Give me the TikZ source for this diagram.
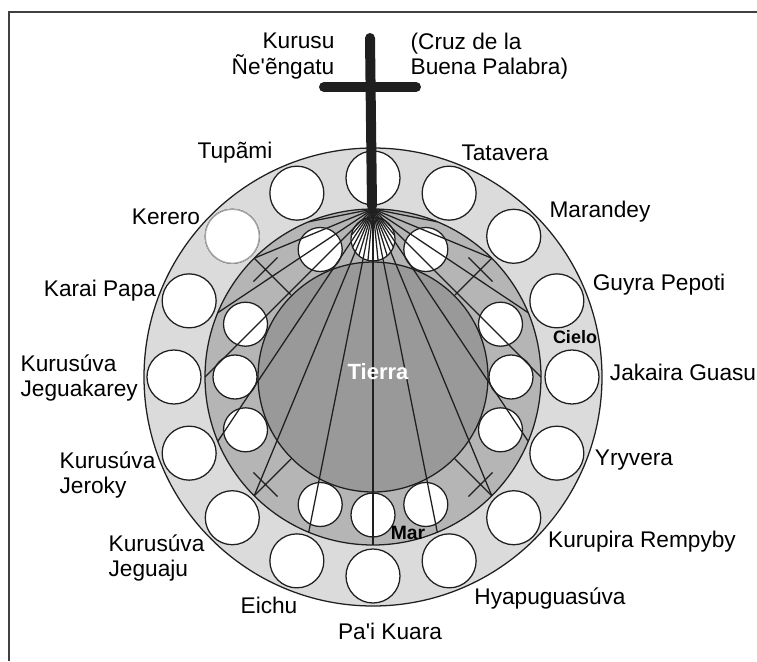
\documentclass[tikz,border=0pt]{standalone}
\usepackage{fontspec}
\newfontfamily\guarani{Liberation Sans}
\usetikzlibrary{positioning}

\definecolor{cielo}{gray}{0.86}
\definecolor{mar}{gray}{0.71}
\definecolor{tierra}{gray}{0.60}
\definecolor{trazo}{gray}{0.12}

\tikzset{
  nombre/.style={font=\guarani\fontsize{17}{19}\selectfont, inner sep=0pt},
  zona/.style={font=\guarani\bfseries\fontsize{#1}{#1}\selectfont, inner sep=0pt},
  hueco/.style={draw=trazo, fill=white},
}

\begin{document}
\begin{tikzpicture}[x=0.75pt, y=-0.75pt, line width=0.95pt, draw=trazo]
  \useasboundingbox (0,0) rectangle (757,661);
  % marco
  \draw[line width=1.6pt, black!75] (9,661) -- (9,12) -- (757,12);

  \begin{scope}[shift={(373,377)}, yscale=-1]
    % cielo
    \filldraw[fill=cielo] (0,0) circle (229);
    \foreach \a in {0,22.5,...,337.5}
      \filldraw[hueco] (\a:199) circle (27);
    \filldraw[hueco, draw=gray!70] (135:199) circle (27);
    % mar y tierra
    \filldraw[fill=mar] (0,0) circle (168);
    \filldraw[fill=tierra] (0,0) circle (115);
    \foreach \a in {0,22.5,67.5,90,112.5,157.5,180,202.5,247.5,270,292.5,337.5}
      \filldraw[hueco] (\a:138) circle (22);
    % rayos desde la cruz
    \coordinate (apex) at (90:168);
    \foreach \a in {112.5,135,...,427.5}
      \draw (apex) -- (\a:168);
    \begin{scope}
      \clip (90:138) circle (22);
      \foreach \a in {191.25,213.75,...,348.75}
        \draw (apex) -- (\a:168);
    \end{scope}
    % cruces chicas
    \foreach \a in {45,135,225,315}
      \draw[rotate=\a] (116,0) -- (168,0) (152,-17) -- (152,17);
  \end{scope}

  % cruz grande
  \draw[line width=7.5pt, trazo, line cap=round] (370,38) -- (372,206);
  \draw[line width=7.5pt, trazo, line cap=round] (324,87) -- (416,87);

  % nombres
  \node[nombre, anchor=east, align=right] (kurusu) at (335,56) {Kurusu\\Ñe'ẽngatu};
  \node[nombre, anchor=west, align=left] (cruz) at (410,56) {(Cruz de la\\Buena Palabra)};
  \node[nombre] (tupami) at (235,153) {Tupãmi};
  \node[nombre] (tatavera) at (505,153) {Tatavera};
  \node[nombre] (kerero) at (166,217) {Kerero};
  \node[nombre] (marandey) at (600,212) {Marandey};
  \node[nombre] (karai) at (100,291) {Karai Papa};
  \node[nombre] (guyra) at (659,285) {Guyra Pepoti};
  \node[nombre, anchor=west, align=left] (jeguakarey) at (20,378) {Kurusúva\\Jeguakarey};
  \node[nombre] (jakaira) at (683,372) {Jakaira Guasu};
  \node[nombre, anchor=west, align=left] (jeroky) at (59,475) {Kurusúva\\Jeroky};
  \node[nombre] (yryvera) at (634,460) {Yryvera};
  \node[nombre, anchor=west, align=left] (jeguaju) at (108,558) {Kurusúva\\Jeguaju};
  \node[nombre] (kurupira) at (642,542) {Kurupira Rempyby};
  \node[nombre] (hyapu) at (550,598) {Hyapuguasúva};
  \node[nombre] (eichu) at (269,605) {Eichu};
  \node[nombre] (paikuara) at (390,631) {Pa'i Kuara};
  % zonas
  \node[zona=13.5] (cielo) at (575,337) {Cielo};
  \node[zona=16.5, text=white] (tierralbl) at (378,372) {Tierra};
  \node[zona=14.5] (marlbl) at (408,533) {Mar};
\end{tikzpicture}
\end{document}
